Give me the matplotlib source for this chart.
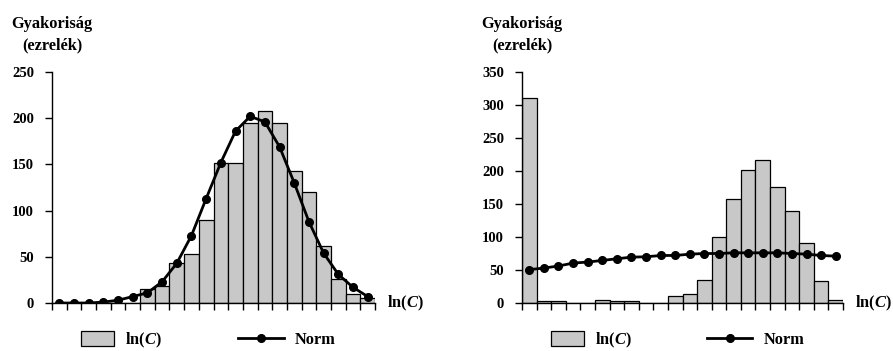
import numpy as np
import matplotlib
matplotlib.use("Agg")
import matplotlib.pyplot as plt
from matplotlib.patches import Patch
from matplotlib.lines import Line2D

# bin index along ln(C)
bins = list(range(22))

# left panel: histogram of ln(C) and fitted normal
left_hist = [0, 0, 0, 0, 0, 0, 15, 18, 43, 53, 90, 152, 152, 195, 208, 195,
             143, 120, 62, 26, 10, 5]
left_norm = [0, 0, 0, 1, 3, 7, 11, 23, 43, 73, 113, 152, 186, 202, 196, 169,
             130, 88, 54, 31, 17, 7]

# right panel
right_hist = [311, 2.5, 2.5, 0, 0, 5, 2.5, 2.5, 0, 0, 10, 13, 35, 100, 158,
              201, 216, 176, 140, 91, 33, 5]
right_norm = [50.5, 53, 56, 60.5, 62, 64.5, 67, 69.5, 70, 72, 72, 74, 75, 75,
              76, 76, 76, 76, 75, 74, 72, 71]

left_yticks = [0, 50, 100, 150, 200, 250]
right_yticks = [0, 50, 100, 150, 200, 250, 300, 350]

ylabel = "Gyakoriság\n(ezrelék)"
xlabel = r"ln($\mathit{C}$)"

plt.rcParams["font.family"] = "Liberation Serif"
plt.rcParams["font.weight"] = "bold"
plt.rcParams["mathtext.fontset"] = "custom"
plt.rcParams["mathtext.rm"] = "Liberation Serif:bold"
plt.rcParams["mathtext.it"] = "Liberation Serif:italic:bold"

FS = 10.5     # tick labels
FS_LAB = 11.8  # axis titles and legend
BAR = "#c8c8c8"

fig = plt.figure(figsize=(8.93, 3.51), dpi=100)
ax1 = fig.add_axes([52 / 893, 1 - 303 / 351, 323 / 893, 231 / 351])
ax2 = fig.add_axes([522 / 893, 1 - 303 / 351, 321 / 893, 231 / 351])


def draw(ax, hist, norm, yticks):
    ax.bar(bins, hist, width=1.0, color=BAR, edgecolor="black", linewidth=0.9,
           zorder=2)
    ax.plot(bins, norm, color="black", linewidth=2.0, marker="o",
            markersize=5.5, zorder=3)
    ax.set_xlim(-0.5, len(bins) - 0.5)
    ax.set_ylim(0, yticks[-1])
    ax.set_yticks(yticks)
    ax.set_xticks(np.arange(len(bins) + 1) - 0.5)
    ax.set_xticklabels([])
    for s in ["top", "right"]:
        ax.spines[s].set_visible(False)
    ax.spines["left"].set_linewidth(1.0)
    ax.spines["bottom"].set_linewidth(1.0)
    ax.tick_params(axis="y", direction="out", length=5, width=1.0,
                   labelsize=FS, pad=8)
    ax.tick_params(axis="x", direction="out", length=5, width=1.0)
    for lab in ax.get_yticklabels():
        lab.set_fontweight("bold")
    ax.spines["bottom"].set_zorder(4)

    ax.text(0.0, 1.16, ylabel, transform=ax.transAxes, ha="center",
            va="center", multialignment="center", fontsize=FS_LAB,
            fontweight="bold", linespacing=1.45)
    ax.text(1.037, 0, xlabel, transform=ax.get_yaxis_transform(), ha="left",
            va="center", fontsize=FS_LAB, fontweight="bold")

    h1 = Patch(facecolor=BAR, edgecolor="black", linewidth=0.9)
    h2 = Line2D([], [], color="black", linewidth=2.0, marker="o",
                markersize=5.5, markevery=[0, -1])
    leg1 = ax.legend([h1], [xlabel], loc="center left",
                     bbox_to_anchor=(0.09, -0.16), frameon=False,
                     borderpad=0, borderaxespad=0, handlelength=2.0,
                     handleheight=1.0, handletextpad=0.7,
                     prop={"size": FS_LAB, "weight": "bold"})
    ax.add_artist(leg1)
    ax.legend([h2], ["Norm"], loc="center left",
              bbox_to_anchor=(0.575, -0.16), frameon=False,
              borderpad=0, borderaxespad=0, handlelength=2.8,
              handletextpad=0.7, prop={"size": FS_LAB, "weight": "bold"})


draw(ax1, left_hist, left_norm, left_yticks)
draw(ax2, right_hist, right_norm, right_yticks)

fig.savefig("out.png", dpi=100)
